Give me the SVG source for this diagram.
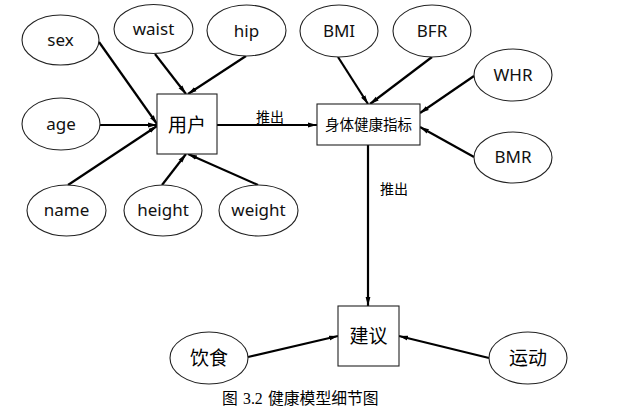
<svg xmlns="http://www.w3.org/2000/svg" width="638" height="415" viewBox="0 0 638 415">
<style>
.n ellipse{fill:#fff;stroke:#222;stroke-width:1.1}
.n rect{fill:#fff;stroke:#222;stroke-width:1.1}
.en{font-family:"Noto Sans","DejaVu Sans",sans-serif;font-size:17px;fill:#111;text-anchor:middle}
.zh{font-family:"Noto Sans CJK SC",sans-serif;font-size:19px;fill:#000;text-anchor:middle}
.zs{font-family:"Noto Sans CJK SC",sans-serif;font-size:14px;fill:#000}
#edges line{stroke:#000;stroke-width:2.2;marker-end:url(#ah)}
.cap{font-family:"Liberation Serif","Noto Sans CJK SC",serif;font-size:15.8px;fill:#000}
</style>
<defs>
<marker id="ah" markerUnits="userSpaceOnUse" markerWidth="10" markerHeight="8" refX="9" refY="3" orient="auto" viewBox="0 0 10 6">
<path d="M0,0.6 L9,3 L0,5.4 Z" fill="#000"/>
</marker>
</defs>
<rect width="638" height="415" fill="#fff"/>
<g id="edges">
<line x1="99" y1="42" x2="157" y2="124"/>
<line x1="100" y1="125" x2="157" y2="125"/>
<line x1="68" y1="185" x2="157" y2="126"/>
<line x1="155" y1="54" x2="186" y2="94"/>
<line x1="246" y1="56" x2="188" y2="94"/>
<line x1="162" y1="185" x2="186" y2="154"/>
<line x1="258" y1="185" x2="188" y2="154"/>
<line x1="217" y1="125" x2="317" y2="125"/>
<line x1="338" y1="57" x2="368" y2="104"/>
<line x1="432" y1="57" x2="370" y2="104"/>
<line x1="474" y1="76" x2="420" y2="113"/>
<line x1="474" y1="157" x2="420" y2="127"/>
<line x1="368" y1="145" x2="368" y2="306"/>
<line x1="248" y1="357" x2="338" y2="336"/>
<line x1="489" y1="358" x2="399" y2="336"/>
</g>
<g id="lbl1"><text class="zs" x="256" y="122">推出</text></g>
<g id="lbl2"><text class="zs" x="380" y="194">推出</text></g>
<g id="sex" class="n"><ellipse cx="60.5" cy="40" rx="38.5" ry="25"/><text class="en" x="60.5" y="46">sex</text></g>
<g id="waist" class="n"><ellipse cx="153.5" cy="29" rx="39.5" ry="24.5"/><text class="en" x="153.5" y="35">waist</text></g>
<g id="hip" class="n"><ellipse cx="246.5" cy="30.5" rx="39.5" ry="25.5"/><text class="en" x="246.5" y="37">hip</text></g>
<g id="age" class="n"><ellipse cx="61" cy="124" rx="39" ry="26"/><text class="en" x="61" y="130">age</text></g>
<g id="name" class="n"><ellipse cx="66.5" cy="210.5" rx="39.5" ry="25.5"/><text class="en" x="66.5" y="216">name</text></g>
<g id="height" class="n"><ellipse cx="163" cy="210.5" rx="39" ry="25.5"/><text class="en" x="163" y="216">height</text></g>
<g id="weight" class="n"><ellipse cx="258.5" cy="210.5" rx="39.5" ry="25.5"/><text class="en" x="258.5" y="216">weight</text></g>
<g id="user" class="n"><rect x="157" y="94" width="60" height="60"/><text class="zh" x="187" y="132">用户</text></g>
<g id="BMI" class="n"><ellipse cx="339" cy="31" rx="39" ry="26"/><text class="en" x="339" y="37">BMI</text></g>
<g id="BFR" class="n"><ellipse cx="432" cy="31" rx="39" ry="26"/><text class="en" x="432" y="37">BFR</text></g>
<g id="WHR" class="n"><ellipse cx="513" cy="75" rx="39" ry="26"/><text class="en" x="513" y="81">WHR</text></g>
<g id="BMR" class="n"><ellipse cx="513" cy="157.5" rx="39" ry="25.5"/><text class="en" x="513" y="163">BMR</text></g>
<g id="index" class="n"><rect x="317" y="104" width="103" height="41"/><text class="zh" x="368.5" y="130" style="font-size:14.5px">身体健康指标</text></g>
<g id="advice" class="n"><rect x="338" y="306" width="61" height="60"/><text class="zh" x="368.5" y="343">建议</text></g>
<g id="diet" class="n"><ellipse cx="209" cy="358" rx="39" ry="26"/><text class="zh" x="209" y="365">饮食</text></g>
<g id="sport" class="n"><ellipse cx="528" cy="358" rx="39" ry="26"/><text class="zh" x="528" y="365">运动</text></g>
<g id="caption"><text class="cap" y="404"><tspan x="222">图</tspan><tspan x="243">3.2</tspan><tspan x="268">健康模型细节图</tspan></text></g>
</svg>
